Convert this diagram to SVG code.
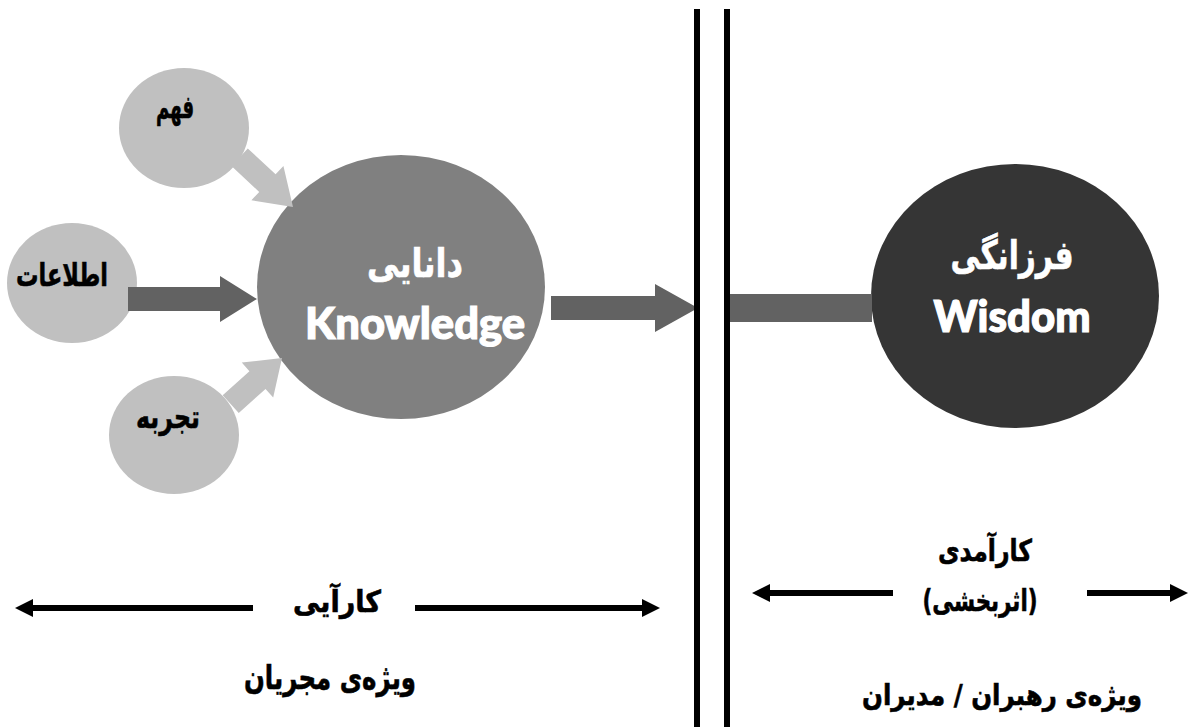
<svg xmlns="http://www.w3.org/2000/svg" width="1201" height="727" viewBox="0 0 1201 727">
<style>
.fa{font-family:"DejaVu Sans",sans-serif;font-weight:bold;text-anchor:middle;stroke:#000;stroke-width:0.6}
.wh{fill:#fff;stroke:#fff}
.en{font-family:Lato,"Open Sans",sans-serif;font-weight:900;text-anchor:middle;fill:#fff;stroke:#fff;stroke-width:1.2}
.light{fill:#c0c0c0}
.dark{fill:#626262}
.blk{stroke:#000;stroke-width:6;fill:none}
</style>
<defs>
<marker id="ah" markerUnits="userSpaceOnUse" markerWidth="18" markerHeight="18" refX="0" refY="9" orient="auto-start-reverse" viewBox="0 0 18 18">
<path d="M0,0 L18,9 L0,18 z" fill="#000"/>
</marker>
</defs>
<rect width="1201" height="727" fill="#fff"/>
<g id="fahm"><ellipse cx="184" cy="128" rx="65" ry="60" class="light"/><text x="175" y="118" class="fa" font-size="32" textLength="38" lengthAdjust="spacingAndGlyphs">فهم</text></g>
<g id="ettelaat"><ellipse cx="72" cy="283" rx="65" ry="60" class="light"/><text x="62" y="286" class="fa" font-size="32" textLength="92" lengthAdjust="spacingAndGlyphs">اطلاعات</text></g>
<g id="tajrobe"><ellipse cx="174" cy="435" rx="65" ry="59" class="light"/><text x="168" y="428" class="fa" font-size="32" textLength="64" lengthAdjust="spacingAndGlyphs">تجربه</text></g>
<g id="knowledge"><ellipse cx="401" cy="287" rx="144" ry="132" fill="#808080"/><text x="415" y="277" class="fa wh" font-size="40" textLength="96" lengthAdjust="spacingAndGlyphs">دانایی</text><text x="415" y="339" class="en" font-size="44" textLength="220" lengthAdjust="spacingAndGlyphs">Knowledge</text></g>
<g id="wisdom"><ellipse cx="1015" cy="296" rx="144" ry="132" fill="#353535"/><text x="1012" y="269" class="fa wh" font-size="40" textLength="123" lengthAdjust="spacingAndGlyphs">فرزانگی</text><text x="1012" y="332" class="en" font-size="44" textLength="157" lengthAdjust="spacingAndGlyphs">Wisdom</text></g>
<g id="connectors">
<polygon class="light" transform="translate(293,207) rotate(43)" points="-73,-12 -35,-12 -35,-23.5 0,0 -35,23.5 -35,12 -73,12"/>
<polygon class="light" transform="translate(282,358) rotate(-42)" points="-69,-12 -33,-12 -33,-23.5 0,0 -33,23.5 -33,12 -69,12"/>
<polygon class="dark" points="128,287 220,287 220,276 257,299 220,322 220,311 128,311"/>
<polygon class="dark" points="551,296 655,296 655,284 698,308 655,332 655,320 551,320"/>
<rect class="dark" x="730" y="294" width="142" height="28"/>
<line class="blk" x1="697" y1="9" x2="697" y2="727"/>
<line class="blk" x1="727" y1="9" x2="727" y2="727"/>
<line class="blk" x1="33" y1="608" x2="253" y2="608" marker-start="url(#ah)"/>
<line class="blk" x1="415" y1="608" x2="642" y2="608" marker-end="url(#ah)"/>
<line class="blk" x1="770" y1="593" x2="893" y2="593" marker-start="url(#ah)"/>
<line class="blk" x1="1087" y1="593" x2="1170" y2="593" marker-end="url(#ah)"/>
</g>
<g id="labels">
<text x="337" y="612" class="fa" font-size="30" textLength="88" lengthAdjust="spacingAndGlyphs">کارآیی</text>
<text x="330" y="689" class="fa" font-size="33" textLength="172" lengthAdjust="spacingAndGlyphs">ویژه‌ی مجریان</text>
<text x="985" y="561" class="fa" font-size="30" textLength="94" lengthAdjust="spacingAndGlyphs">کارآمدی</text>
<text x="980" y="611" class="fa" font-size="30" textLength="115" lengthAdjust="spacingAndGlyphs">(اثربخشی)</text>
<text x="1002" y="705" class="fa" font-size="29" textLength="280" lengthAdjust="spacingAndGlyphs">ویژه‌ی رهبران / مدیران</text>
</g>
</svg>
